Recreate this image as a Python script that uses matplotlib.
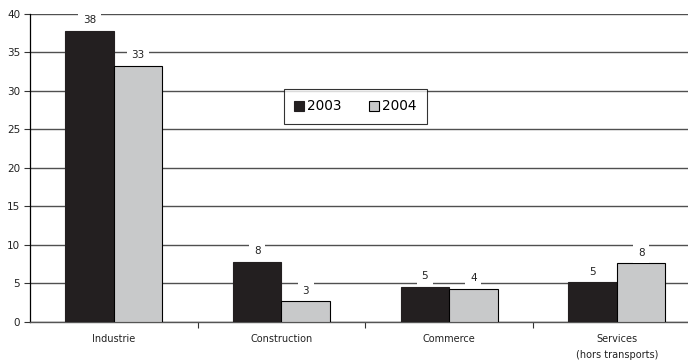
import matplotlib
matplotlib.use("Agg")
import matplotlib.pyplot as plt
import numpy as np

categories = ["Industrie", "Construction", "Commerce", "Services\n(hors transports)"]
years = ["2003", "2004"]
values_2003 = [37.8, 7.8, 4.6, 5.2]
values_2004 = [33.3, 2.7, 4.3, 7.6]
yticks = [0, 5, 10, 15, 20, 25, 30, 35, 40]

plt.rcParams["font.family"] = ["DejaVu Sans"]

fig = plt.figure(figsize=(6.88, 3.63), dpi=100)
ax = fig.add_axes([0.0436, 0.113, 0.965, 0.8486])

x = np.arange(len(categories))
w = 0.29
dark = "#231f20"
light = "#c8c9ca"

b1 = ax.bar(x - w / 2, values_2003, w, color=dark, edgecolor=dark, linewidth=0.8,
            label=years[0], zorder=3)
b2 = ax.bar(x + w / 2, values_2004, w, color=light, edgecolor="black", linewidth=0.8,
            label=years[1], zorder=3)

for bars, vals in ((b1, values_2003), (b2, values_2004)):
    for rect, v in zip(bars, vals):
        ax.annotate(f"{v:.0f}", xy=(rect.get_x() + rect.get_width() / 2, v),
                    xytext=(0, 7.5), textcoords="offset points",
                    ha="center", va="center", fontsize=7.5, color="#222222",
                    bbox=dict(boxstyle="square,pad=0.45", fc="white", ec="none"),
                    zorder=4)

ax.set_ylim(0, 40)
ax.set_xlim(-0.5, 3.46)
ax.set_yticks(yticks)
ax.set_yticklabels([str(t) for t in yticks], fontsize=7.5, color="#222222")
ax.yaxis.grid(True, color="#505050", linewidth=1.0, zorder=0)
ax.set_axisbelow(True)

ax.set_xticks(x)
ax.set_xticklabels(categories, fontsize=7, color="#222222", linespacing=1.75)
ax.set_xticks([0.5, 1.5, 2.5], minor=True)
ax.tick_params(axis="x", which="major", length=0, pad=9)
ax.tick_params(axis="x", which="minor", length=4, width=0.8, color="#333333", direction="out")
ax.tick_params(axis="y", length=4, width=0.8, color="#333333", direction="out", pad=3)

for s in ("top", "right"):
    ax.spines[s].set_visible(False)
ax.spines["left"].set_color("black")
ax.spines["left"].set_linewidth(0.9)
ax.spines["bottom"].set_color("#555555")
ax.spines["bottom"].set_linewidth(1.0)

leg = ax.legend(loc="center", bbox_to_anchor=(0.49, 0.70), ncol=2, fontsize=9.8,
                frameon=True, fancybox=False, edgecolor="black",
                handlelength=0.75, handleheight=0.75, handletextpad=0.2,
                columnspacing=2.0, borderpad=0.75, borderaxespad=0)
leg.get_frame().set_linewidth(0.8)

fig.savefig("out.png", dpi=100)
